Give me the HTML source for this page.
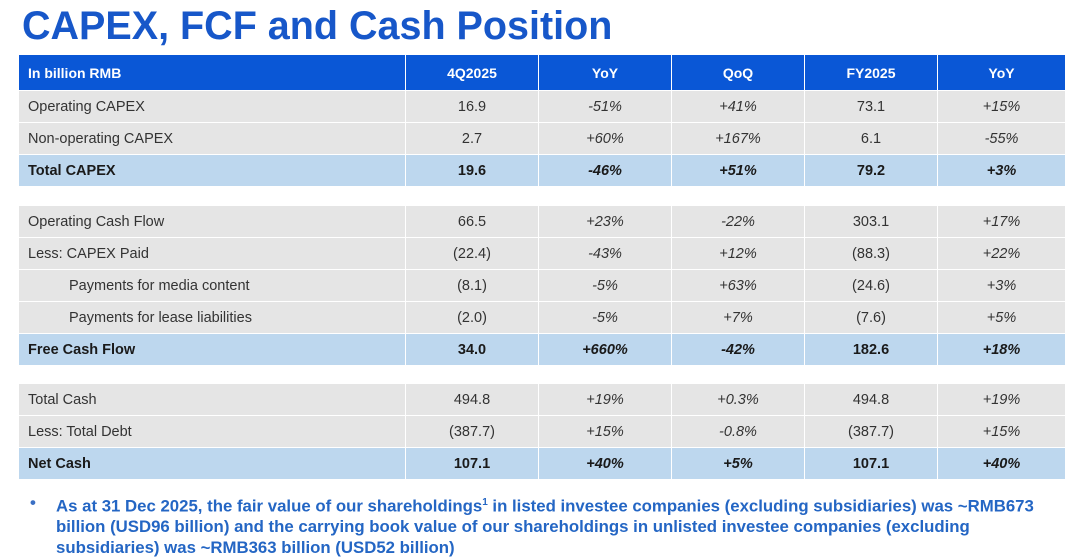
<!DOCTYPE html>
<html><head><meta charset="utf-8"><style>
body{margin:0;width:1080px;height:560px;background:#fff;font-family:"Liberation Sans",sans-serif;position:relative;overflow:hidden}
h1{position:absolute;left:22px;top:4px;margin:0;font-size:39.5px;font-weight:bold;color:#1757c9}
table{position:absolute;left:18px;border-collapse:collapse;width:1047px;table-layout:fixed;font-size:14.5px;color:#333}
td,th{height:32px;padding:0;border:1px solid #fff;text-align:center;box-sizing:border-box}
td:first-child,th:first-child{text-align:left;padding-left:9px}
th{background:#0a57d6;color:#fff;font-weight:bold;height:36px;font-size:14px}
tr.r td{background:#e5e5e5}
tr.t td{background:#bdd7ee;font-weight:bold;color:#1a1a1a}
td.i{font-style:italic}
.ind{padding-left:50px!important}
.note{position:absolute;left:30px;top:493px;color:#2466c4;font-weight:bold;font-size:16.8px;line-height:20.5px}
.note .b{position:absolute;left:0;top:0;color:#3a6fc4}
.note .tx{position:absolute;left:26px;top:0;width:1010px}
</style></head><body>
<h1>CAPEX, FCF and Cash Position</h1>
<table style="top:54px">
<colgroup><col style="width:387px"><col style="width:133px"><col style="width:133px"><col style="width:133px"><col style="width:133px"><col style="width:128px"></colgroup>
<tr><th>In billion RMB</th><th>4Q2025</th><th>YoY</th><th>QoQ</th><th>FY2025</th><th>YoY</th></tr>
<tr class="r"><td>Operating CAPEX</td><td>16.9</td><td class="i">-51%</td><td class="i">+41%</td><td>73.1</td><td class="i">+15%</td></tr>
<tr class="r"><td>Non-operating CAPEX</td><td>2.7</td><td class="i">+60%</td><td class="i">+167%</td><td>6.1</td><td class="i">-55%</td></tr>
<tr class="t"><td>Total CAPEX</td><td>19.6</td><td class="i">-46%</td><td class="i">+51%</td><td>79.2</td><td class="i">+3%</td></tr>
</table>
<table style="top:205px">
<colgroup><col style="width:387px"><col style="width:133px"><col style="width:133px"><col style="width:133px"><col style="width:133px"><col style="width:128px"></colgroup>
<tr class="r"><td>Operating Cash Flow</td><td>66.5</td><td class="i">+23%</td><td class="i">-22%</td><td>303.1</td><td class="i">+17%</td></tr>
<tr class="r"><td>Less: CAPEX Paid</td><td>(22.4)</td><td class="i">-43%</td><td class="i">+12%</td><td>(88.3)</td><td class="i">+22%</td></tr>
<tr class="r"><td class="ind">Payments for media content</td><td>(8.1)</td><td class="i">-5%</td><td class="i">+63%</td><td>(24.6)</td><td class="i">+3%</td></tr>
<tr class="r"><td class="ind">Payments for lease liabilities</td><td>(2.0)</td><td class="i">-5%</td><td class="i">+7%</td><td>(7.6)</td><td class="i">+5%</td></tr>
<tr class="t"><td>Free Cash Flow</td><td>34.0</td><td class="i">+660%</td><td class="i">-42%</td><td>182.6</td><td class="i">+18%</td></tr>
</table>
<table style="top:383px">
<colgroup><col style="width:387px"><col style="width:133px"><col style="width:133px"><col style="width:133px"><col style="width:133px"><col style="width:128px"></colgroup>
<tr class="r"><td>Total Cash</td><td>494.8</td><td class="i">+19%</td><td class="i">+0.3%</td><td>494.8</td><td class="i">+19%</td></tr>
<tr class="r"><td>Less: Total Debt</td><td>(387.7)</td><td class="i">+15%</td><td class="i">-0.8%</td><td>(387.7)</td><td class="i">+15%</td></tr>
<tr class="t"><td>Net Cash</td><td>107.1</td><td class="i">+40%</td><td class="i">+5%</td><td>107.1</td><td class="i">+40%</td></tr>
</table>
<div class="note"><span class="b">•</span><div class="tx">As at 31 Dec 2025, the fair value of our shareholdings<sup style="font-size:10px">1</sup> in listed investee companies (excluding subsidiaries) was ~RMB673 billion (USD96 billion) and the carrying book value of our shareholdings in unlisted investee companies (excluding subsidiaries) was ~RMB363 billion (USD52 billion)</div></div>
</body></html>
